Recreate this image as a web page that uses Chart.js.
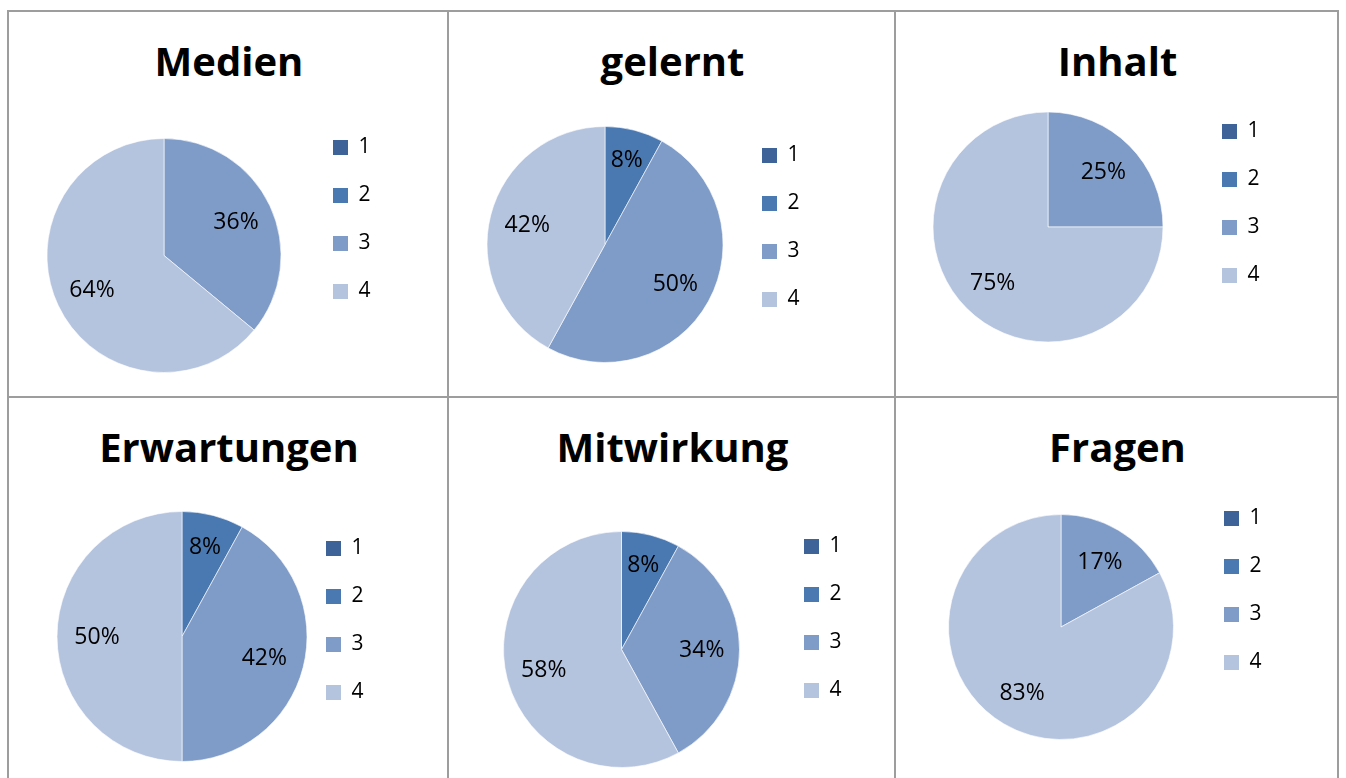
<!DOCTYPE html>
<html>
<head>
<meta charset="utf-8">
<script src="https://cdn.jsdelivr.net/npm/chart.js@4/dist/chart.umd.min.js"></script>
<style>
  html, body { margin: 0; padding: 0; background: #fff; }
  body { width: 1346px; height: 778px; overflow: hidden; position: relative; }
  .cell { position: absolute; border: 2px solid #9d9d9d; box-sizing: border-box; }
  .title { position: absolute; font: bold 40px "Open Sans", sans-serif; line-height: 40px;
           color: #000; text-align: center; white-space: nowrap; transform: translateX(-50%); }
  canvas { position: absolute; }
</style>
</head>
<body>
<script>
// legend categories
const categories = ['1', '2', '3', '4'];

// chart titles
const titles = ['Medien', 'gelernt', 'Inhalt', 'Erwartungen', 'Mitwirkung', 'Fragen'];

// share of answers in percent, per category 1..4
const medien      = [0, 0, 36, 64];
const gelernt     = [0, 8, 50, 42];
const inhalt      = [0, 0, 25, 75];
const erwartungen = [0, 8, 42, 50];
const mitwirkung  = [0, 8, 34, 58];
const fragen      = [0, 0, 17, 83];

const seriesList = [medien, gelernt, inhalt, erwartungen, mitwirkung, fragen];

const colors = ['#3d6399', '#4a78b1', '#7f9cc8', '#b5c4de'];

// grid of the sheet
const colEdges = [7, 447, 894, 1337];
const rowEdges = [10, 396, 820];

// pie centre, radius, first legend box left and first legend row centre
const places = [
  { cx: 164,    cy: 255,   r: 117,   lx: 333,  ly: 147 },
  { cx: 605,    cy: 244,   r: 118,   lx: 762,  ly: 155 },
  { cx: 1048,   cy: 226.5, r: 115,   lx: 1222, ly: 131 },
  { cx: 182,    cy: 636,   r: 125,   lx: 326,  ly: 548 },
  { cx: 621.5,  cy: 649,   r: 118,   lx: 804,  ly: 546 },
  { cx: 1061,   cy: 626.5, r: 112.5, lx: 1224, ly: 518 }
];

const LEGEND_FONT = 21;
const LEGEND_PAD = 48 - LEGEND_FONT;   // row pitch 48px
const LEGEND_W = 72;
const LEFT_PAD = 30;
const RIGHT_PAD = 20;

// percentage labels inside the slices
const pctLabels = {
  id: 'pctLabels',
  afterDatasetsDraw(chart) {
    const ctx = chart.ctx;
    const vals = chart.data.datasets[0].data;
    const meta = chart.getDatasetMeta(0);
    ctx.save();
    ctx.font = '23px "Open Sans"';
    ctx.fillStyle = '#000';
    ctx.textAlign = 'center';
    ctx.textBaseline = 'middle';
    meta.data.forEach((arc, i) => {
      if (!vals[i]) return;
      const p = arc.getProps(['x', 'y', 'startAngle', 'endAngle', 'outerRadius'], true);
      const mid = (p.startAngle + p.endAngle) / 2;
      const f = vals[i] < 10 ? 0.74 : 0.68;
      ctx.fillText(vals[i] + '%', p.x + Math.cos(mid) * p.outerRadius * f, p.y + Math.sin(mid) * p.outerRadius * f + 1);
    });
    ctx.restore();
  }
};

function buildGrid() {
  for (let r = 0; r < 2; r++) {
    for (let c = 0; c < 3; c++) {
      const d = document.createElement('div');
      d.className = 'cell';
      d.style.left = colEdges[c] + 'px';
      d.style.top = rowEdges[r] + 'px';
      d.style.width = (colEdges[c + 1] - colEdges[c] + 2) + 'px';
      d.style.height = (rowEdges[r + 1] - rowEdges[r] + 2) + 'px';
      document.body.appendChild(d);

      const t = document.createElement('div');
      t.className = 'title';
      t.textContent = titles[r * 3 + c];
      t.style.left = ((colEdges[c] + colEdges[c + 1]) / 2 + 2) + 'px';
      t.style.top = (rowEdges[r] + 31) + 'px';
      document.body.appendChild(t);
    }
  }
}

function buildChart(idx) {
  const pl = places[idx];
  const chartRight = pl.lx - LEGEND_PAD;
  const chartLeft = 2 * pl.cx - chartRight;
  const chartTop = pl.ly - LEGEND_PAD - LEGEND_FONT / 2;
  const chartBottom = 2 * pl.cy - chartTop;
  const w = Math.round(chartRight - chartLeft + LEFT_PAD + LEGEND_W + RIGHT_PAD);
  const h = Math.round(chartBottom - chartTop);

  const canvas = document.createElement('canvas');
  canvas.width = w;
  canvas.height = h;
  canvas.style.left = (chartLeft - LEFT_PAD) + 'px';
  canvas.style.top = chartTop + 'px';
  canvas.style.width = w + 'px';
  canvas.style.height = h + 'px';
  document.body.appendChild(canvas);

  new Chart(canvas.getContext('2d'), {
    type: 'pie',
    data: {
      labels: categories,
      datasets: [{
        data: seriesList[idx],
        backgroundColor: colors,
        borderColor: 'rgba(255,255,255,0.6)',
        borderWidth: 1,
        radius: pl.r,
        clip: false
      }]
    },
    options: {
      responsive: false,
      animation: false,
      events: [],
      layout: { padding: { left: LEFT_PAD, top: 0, right: RIGHT_PAD, bottom: 0 } },
      plugins: {
        tooltip: { enabled: false },
        title: { display: false },
        legend: {
          position: 'right',
          align: 'start',
          maxWidth: LEGEND_W,
          labels: {
            boxWidth: 15,
            boxHeight: 15,
            padding: LEGEND_PAD,
            color: '#000',
            font: { family: 'Open Sans', size: LEGEND_FONT },
            generateLabels(chart) {
              return Chart.overrides.pie.plugins.legend.labels.generateLabels(chart)
                .map(l => ({ ...l, lineWidth: 0 }));
            }
          }
        }
      }
    },
    plugins: [pctLabels]
  });
}

buildGrid();
const fontsReady = document.fonts
  ? Promise.all([document.fonts.load('20px "Open Sans"'), document.fonts.load('bold 40px "Open Sans"')]).catch(() => {})
  : Promise.resolve();
fontsReady.then(() => {
  for (let i = 0; i < seriesList.length; i++) buildChart(i);
});
</script>
</body>
</html>
